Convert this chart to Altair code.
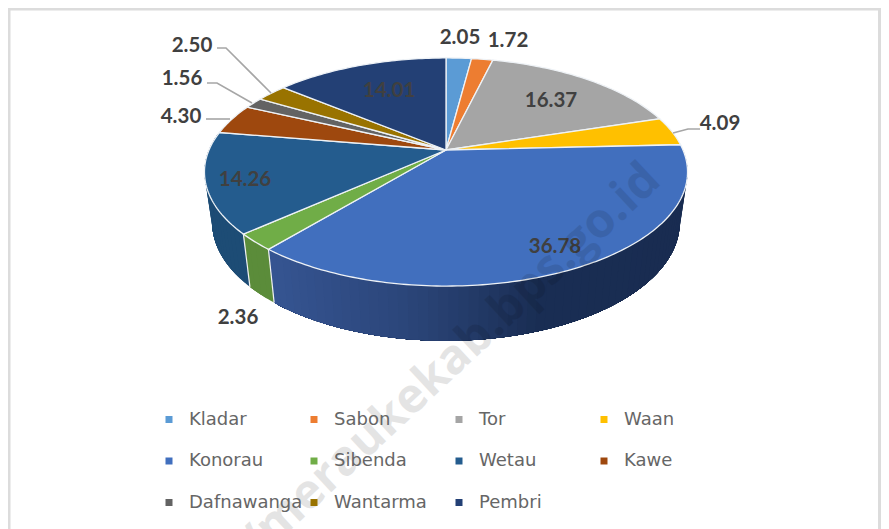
import math
import altair as alt
import pandas as pd

# ---- chart values ----
names = ["Kladar", "Sabon", "Tor", "Waan", "Konorau", "Sibenda", "Wetau", "Kawe", "Dafnawanga", "Wantarma", "Pembri"]
values = [2.05, 1.72, 16.37, 4.09, 36.78, 2.36, 14.26, 4.30, 1.56, 2.50, 14.01]
colors = ["#5B9BD5", "#ED7D31", "#A5A5A5", "#FFC000", "#416FBE", "#70AD47", "#245C8E", "#9E480E", "#636363", "#997300", "#234075"]
watermark = "//meraukekab.bps.go.id"

# ---- layout (page pixels) ----
W, H = 873, 521
CX, Y_TOP, Y_BASE = 446.0, 150.0, 199.5
A_TOP, B_TOP, A_BASE, B_BASE, K = 237.0, 109.8, 229.4, 114.0, 0.193
label_pos = {
    "Kladar": (460, 38), "Sabon": (508, 41), "Tor": (551, 101), "Waan": (720, 124),
    "Konorau": (555, 247), "Sibenda": (238, 318), "Wetau": (245, 180), "Kawe": (181, 117),
    "Dafnawanga": (182, 79), "Wantarma": (192, 46), "Pembri": (389, 91),
}
leaders = {
    "Waan": [(700, 129), (688, 129), (673, 133)],
    "Kawe": [(206, 119), (230, 119)],
    "Dafnawanga": [(207, 83), (217, 83), (252, 103)],
    "Wantarma": [(217, 48), (226, 48), (271, 93)],
}
konorau_wall = [(270, "#365592"), (400, "#2c477b"), (470, "#243b69"), (540, "#1a2e54"), (900, "#182a4d")]
other_wall = {"Sibenda": "#5b8c3a", "Wetau": "#1d4c75", "Waan": "#182a4d", "Kawe": "#1d4c75"}


def project(theta, a, b, y0):
    u, v = math.sin(theta), math.cos(theta)
    d = 1 + K * v
    return [CX + a * u / d, y0 - b * v / d]


def arc_points(t0, t1, a, b, y0):
    n = max(2, int((t1 - t0) / math.radians(1.0)) + 1)
    return [project(t0 + (t1 - t0) * i / n, a, b, y0) for i in range(n + 1)]


def poly(coords):
    ring = coords + [coords[0]]
    return {"type": "Polygon", "coordinates": [ring]}


def rgb(c):
    c = c.lstrip("#")
    return [int(c[i:i + 2], 16) for i in (0, 2, 4)]


def wall_color(name, x):
    if name != "Konorau":
        return other_wall[name]
    for (x0, c0), (x1, c1) in zip(konorau_wall, konorau_wall[1:]):
        if x0 <= x <= x1:
            f = (x - x0) / (x1 - x0)
            return "#%02x%02x%02x" % tuple(int(p + (q - p) * f) for p, q in zip(rgb(c0), rgb(c1)))
    return konorau_wall[0][1]


cum = 0.0
angles = []
for v in values:
    angles.append((cum / 100 * 2 * math.pi, (cum + v) / 100 * 2 * math.pi))
    cum += v

# side wall: later strips paint over earlier ones, so no seams appear
walls = []
VIS0, VIS1 = math.radians(85), math.radians(282)
STEP = math.radians(2.0)
for name, col, (t0, t1) in zip(names, colors, angles):
    a0, a1 = max(t0, VIS0), min(t1, VIS1)
    if a1 <= a0:
        continue
    n = max(1, int((a1 - a0) / STEP))
    for i in range(n):
        s0 = a0 + (a1 - a0) * i / n
        ring = arc_points(s0, a1, A_TOP, B_TOP, Y_TOP) + arc_points(s0, a1, A_BASE, B_BASE, Y_BASE)[::-1]
        fill = wall_color(name, project(s0 + STEP / 2, A_TOP, B_TOP, Y_TOP)[0])
        walls.append({"type": "Feature", "geometry": poly(ring), "properties": {"fill": fill}})

# wall edge lines
edges = []
for i in (4, 5):
    t = angles[i][1]
    a, b = project(t, A_TOP, B_TOP, Y_TOP), project(t, A_BASE, B_BASE, Y_BASE)
    edges.append({"type": "Feature", "geometry": {"type": "LineString", "coordinates": [a, b]}, "properties": {}})

# top surface
tops = []
for name, (t0, t1) in zip(names, angles):
    ring = [[CX, Y_TOP]] + arc_points(t0, t1, A_TOP, B_TOP, Y_TOP)
    tops.append({"type": "Feature", "geometry": poly(ring), "properties": {"name": name}})

proj = alt.Projection(type="identity", scale=1, translate=[-8, -8])

wall_layer = alt.Chart(alt.Data(values=walls, format=alt.DataFormat(type="json"))).mark_geoshape(
    strokeWidth=0
).encode(
    fill=alt.Fill("properties.fill:N", scale=None),
).project(**proj.to_dict())

edge_layer = alt.Chart(alt.Data(values=edges, format=alt.DataFormat(type="json"))).mark_geoshape(
    filled=False, stroke="#f2f2f2", strokeWidth=1.2
).project(**proj.to_dict())

top_layer = alt.Chart(alt.Data(values=tops, format=alt.DataFormat(type="json"))).mark_geoshape(
    stroke="#eef2f6", strokeWidth=1.3
).encode(
    color=alt.Color(
        "properties.name:N",
        scale=alt.Scale(domain=names, range=colors),
        legend=alt.Legend(
            title=None, orient="none", legendX=152, legendY=402.5, columns=4, gridAlign="all",
            direction="horizontal",
            symbolType="square", symbolSize=49, symbolStrokeWidth=0,
            labelFont="DejaVu Sans", labelFontSize=18, labelColor="#666666", labelOffset=11,
            columnPadding=2, rowPadding=23.5, labelLimit=200,
        ),
    )
).project(**proj.to_dict())

label_df = pd.DataFrame({
    "txt": ["%.2f" % v for v in values],
    "x": [label_pos[n][0] - 8 for n in names],
    "y": [label_pos[n][1] - 8 for n in names],
    "name": names,
})
labels = alt.Chart(label_df).mark_text(
    font="Lato", fontWeight="bold", fontSize=20.5, color="#404040", align="center", baseline="middle"
).encode(x=alt.X("x:Q", scale=None), y=alt.Y("y:Q", scale=None), text="txt:N")

leader_feats = [
    {"type": "Feature", "geometry": {"type": "LineString", "coordinates": [list(p) for p in pts]}, "properties": {}}
    for pts in leaders.values()
]
leader_layer = alt.Chart(alt.Data(values=leader_feats, format=alt.DataFormat(type="json"))).mark_geoshape(
    filled=False, stroke="#a6a6a6", strokeWidth=1.6
).project(**proj.to_dict())

frame_l = alt.Chart().mark_rule(color="#dcdcdc", strokeWidth=3).encode(
    x=alt.value(1), y=alt.value(0), y2=alt.value(H))
frame_t = alt.Chart().mark_rule(color="#dcdcdc", strokeWidth=3).encode(
    x=alt.value(0), x2=alt.value(W), y=alt.value(1))
frame_r = alt.Chart().mark_rule(color="#dcdcdc", strokeWidth=3).encode(
    x=alt.value(W - 1.5), y=alt.value(0), y2=alt.value(H))

wm = alt.Chart(pd.DataFrame({"t": [watermark], "x": [444 - 8], "y": [368 - 8]})).mark_text(
    font="Open Sans", fontWeight="bold", fontSize=48, angle=317, color="#000000", opacity=0.1,
    align="center", baseline="middle"
).encode(x=alt.X("x:Q", scale=None), y=alt.Y("y:Q", scale=None), text="t:N")

chart = alt.layer(
    frame_l, frame_t, frame_r, wall_layer, edge_layer, top_layer, leader_layer, labels, wm
).properties(
    width=W, height=H, padding=0, autosize=alt.AutoSizeParams(type="none")
).configure_view(stroke=None).configure(background="white")

chart.save("out.html", embed_options={"renderer": "svg", "actions": False})
